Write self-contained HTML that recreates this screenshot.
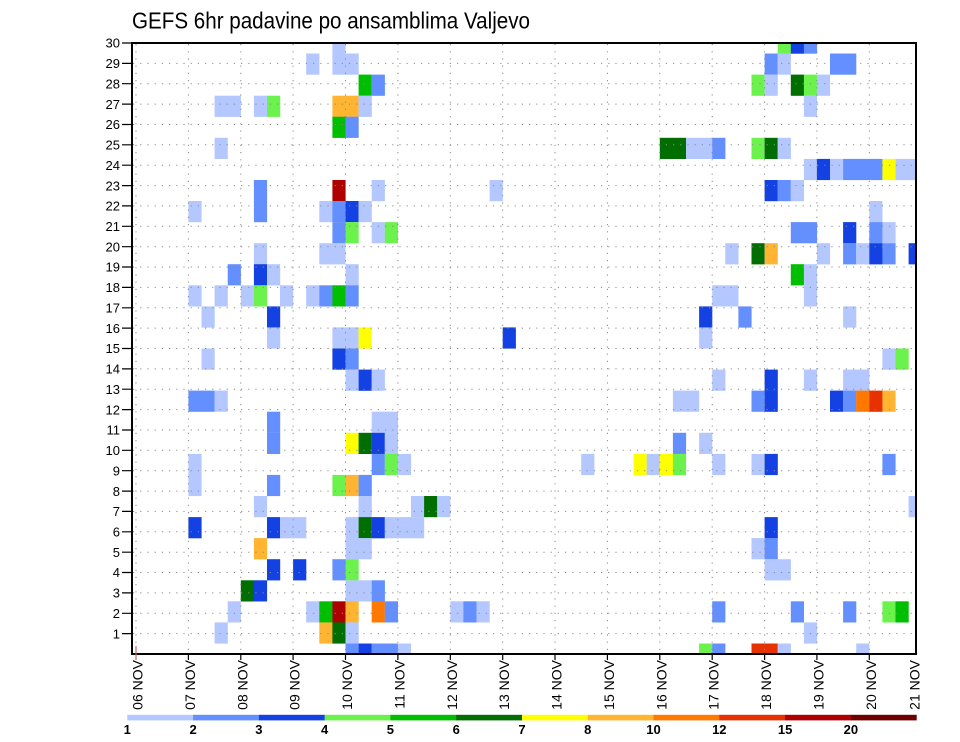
<!DOCTYPE html>
<html><head><meta charset="utf-8"><style>
html,body{margin:0;padding:0;background:#fff;}
svg{display:block;font-family:"Liberation Sans",sans-serif;}
.L{fill:#b4c8ff}.M{fill:#6490ff}.D{fill:#1441e1}.LG{fill:#6cf24c}.G{fill:#00be00}.DG{fill:#006e00}
.Y{fill:#ffff00}.O{fill:#ffb432}.O2{fill:#ff7800}.R{fill:#e63200}.DR{fill:#af0000}.X{fill:#6e0000}
</style></head><body>
<svg width="960" height="742" viewBox="0 0 960 742" xmlns="http://www.w3.org/2000/svg">
<defs><clipPath id="pc"><rect x="132" y="43" width="784" height="611"/></clipPath></defs>
<text x="132" y="28.5" font-size="23.5" textLength="398" lengthAdjust="spacingAndGlyphs" fill="#000">GEFS 6hr padavine po ansamblima Valjevo</text>
<g clip-path="url(#pc)">
<!-- m29 -->
<rect x="332.4" y="32.5" width="13.2" height="21.2" class="L"/>
<rect x="777.7" y="32.5" width="13.2" height="21.2" class="LG"/>
<rect x="790.8" y="32.5" width="13.2" height="21.2" class="D"/>
<rect x="803.9" y="32.5" width="13.2" height="21.2" class="M"/>
<!-- m28 -->
<rect x="306.2" y="53.5" width="13.2" height="21.2" class="L"/>
<rect x="332.4" y="53.5" width="26.3" height="21.2" class="L"/>
<rect x="764.6" y="53.5" width="13.2" height="21.2" class="M"/>
<rect x="777.7" y="53.5" width="13.2" height="21.2" class="L"/>
<rect x="830.0" y="53.5" width="26.3" height="21.2" class="M"/>
<!-- m27 -->
<rect x="358.6" y="74.6" width="13.2" height="21.2" class="G"/>
<rect x="371.7" y="74.6" width="13.2" height="21.2" class="M"/>
<rect x="751.5" y="74.6" width="13.2" height="21.2" class="LG"/>
<rect x="764.6" y="74.6" width="13.2" height="21.2" class="L"/>
<rect x="790.8" y="74.6" width="13.2" height="21.2" class="DG"/>
<rect x="803.9" y="74.6" width="13.2" height="21.2" class="LG"/>
<rect x="816.9" y="74.6" width="13.2" height="21.2" class="L"/>
<!-- m26 -->
<rect x="214.6" y="95.7" width="26.3" height="21.2" class="L"/>
<rect x="253.9" y="95.7" width="13.2" height="21.2" class="L"/>
<rect x="267.0" y="95.7" width="13.2" height="21.2" class="LG"/>
<rect x="332.4" y="95.7" width="26.3" height="21.2" class="O"/>
<rect x="358.6" y="95.7" width="13.2" height="21.2" class="L"/>
<rect x="803.9" y="95.7" width="13.2" height="21.2" class="L"/>
<!-- m25 -->
<rect x="332.4" y="116.7" width="13.2" height="21.2" class="G"/>
<rect x="345.5" y="116.7" width="13.2" height="21.2" class="M"/>
<!-- m24 -->
<rect x="214.6" y="137.8" width="13.2" height="21.2" class="L"/>
<rect x="659.8" y="137.8" width="26.3" height="21.2" class="DG"/>
<rect x="686.0" y="137.8" width="26.3" height="21.2" class="L"/>
<rect x="712.2" y="137.8" width="13.2" height="21.2" class="M"/>
<rect x="751.5" y="137.8" width="13.2" height="21.2" class="LG"/>
<rect x="764.6" y="137.8" width="13.2" height="21.2" class="DG"/>
<rect x="777.7" y="137.8" width="13.2" height="21.2" class="L"/>
<!-- m23 -->
<rect x="803.9" y="158.9" width="13.2" height="21.2" class="L"/>
<rect x="816.9" y="158.9" width="13.2" height="21.2" class="D"/>
<rect x="830.0" y="158.9" width="13.2" height="21.2" class="L"/>
<rect x="843.1" y="158.9" width="39.4" height="21.2" class="M"/>
<rect x="882.4" y="158.9" width="13.2" height="21.2" class="Y"/>
<rect x="895.5" y="158.9" width="26.3" height="21.2" class="L"/>
<!-- m22 -->
<rect x="253.9" y="180.0" width="13.2" height="21.2" class="M"/>
<rect x="332.4" y="180.0" width="13.2" height="21.2" class="DR"/>
<rect x="371.7" y="180.0" width="13.2" height="21.2" class="L"/>
<rect x="489.6" y="180.0" width="13.2" height="21.2" class="L"/>
<rect x="764.6" y="180.0" width="13.2" height="21.2" class="D"/>
<rect x="777.7" y="180.0" width="13.2" height="21.2" class="M"/>
<rect x="790.8" y="180.0" width="13.2" height="21.2" class="L"/>
<!-- m21 -->
<rect x="188.4" y="201.0" width="13.2" height="21.2" class="L"/>
<rect x="253.9" y="201.0" width="13.2" height="21.2" class="M"/>
<rect x="319.3" y="201.0" width="13.2" height="21.2" class="L"/>
<rect x="332.4" y="201.0" width="13.2" height="21.2" class="M"/>
<rect x="345.5" y="201.0" width="13.2" height="21.2" class="D"/>
<rect x="358.6" y="201.0" width="13.2" height="21.2" class="L"/>
<rect x="869.3" y="201.0" width="13.2" height="21.2" class="L"/>
<!-- m20 -->
<rect x="332.4" y="222.1" width="13.2" height="21.2" class="M"/>
<rect x="345.5" y="222.1" width="13.2" height="21.2" class="LG"/>
<rect x="371.7" y="222.1" width="13.2" height="21.2" class="L"/>
<rect x="384.8" y="222.1" width="13.2" height="21.2" class="LG"/>
<rect x="790.8" y="222.1" width="26.3" height="21.2" class="M"/>
<rect x="843.1" y="222.1" width="13.2" height="21.2" class="D"/>
<rect x="869.3" y="222.1" width="13.2" height="21.2" class="M"/>
<rect x="882.4" y="222.1" width="13.2" height="21.2" class="L"/>
<!-- m19 -->
<rect x="253.9" y="243.2" width="13.2" height="21.2" class="L"/>
<rect x="319.3" y="243.2" width="26.3" height="21.2" class="L"/>
<rect x="725.3" y="243.2" width="13.2" height="21.2" class="L"/>
<rect x="751.5" y="243.2" width="13.2" height="21.2" class="DG"/>
<rect x="764.6" y="243.2" width="13.2" height="21.2" class="O"/>
<rect x="816.9" y="243.2" width="13.2" height="21.2" class="L"/>
<rect x="843.1" y="243.2" width="13.2" height="21.2" class="M"/>
<rect x="856.2" y="243.2" width="13.2" height="21.2" class="L"/>
<rect x="869.3" y="243.2" width="13.2" height="21.2" class="D"/>
<rect x="882.4" y="243.2" width="13.2" height="21.2" class="M"/>
<rect x="908.6" y="243.2" width="13.2" height="21.2" class="D"/>
<!-- m18 -->
<rect x="227.7" y="264.2" width="13.2" height="21.2" class="M"/>
<rect x="253.9" y="264.2" width="13.2" height="21.2" class="D"/>
<rect x="267.0" y="264.2" width="13.2" height="21.2" class="L"/>
<rect x="345.5" y="264.2" width="13.2" height="21.2" class="L"/>
<rect x="790.8" y="264.2" width="13.2" height="21.2" class="G"/>
<rect x="803.9" y="264.2" width="13.2" height="21.2" class="L"/>
<!-- m17 -->
<rect x="188.4" y="285.3" width="13.2" height="21.2" class="L"/>
<rect x="214.6" y="285.3" width="13.2" height="21.2" class="L"/>
<rect x="240.8" y="285.3" width="13.2" height="21.2" class="L"/>
<rect x="253.9" y="285.3" width="13.2" height="21.2" class="LG"/>
<rect x="280.0" y="285.3" width="13.2" height="21.2" class="L"/>
<rect x="306.2" y="285.3" width="13.2" height="21.2" class="L"/>
<rect x="319.3" y="285.3" width="13.2" height="21.2" class="M"/>
<rect x="332.4" y="285.3" width="13.2" height="21.2" class="G"/>
<rect x="345.5" y="285.3" width="13.2" height="21.2" class="M"/>
<rect x="712.2" y="285.3" width="26.3" height="21.2" class="L"/>
<rect x="803.9" y="285.3" width="13.2" height="21.2" class="L"/>
<!-- m16 -->
<rect x="201.5" y="306.4" width="13.2" height="21.2" class="L"/>
<rect x="267.0" y="306.4" width="13.2" height="21.2" class="D"/>
<rect x="699.1" y="306.4" width="13.2" height="21.2" class="D"/>
<rect x="738.4" y="306.4" width="13.2" height="21.2" class="M"/>
<rect x="843.1" y="306.4" width="13.2" height="21.2" class="L"/>
<!-- m15 -->
<rect x="267.0" y="327.4" width="13.2" height="21.2" class="L"/>
<rect x="332.4" y="327.4" width="26.3" height="21.2" class="L"/>
<rect x="358.6" y="327.4" width="13.2" height="21.2" class="Y"/>
<rect x="502.7" y="327.4" width="13.2" height="21.2" class="D"/>
<rect x="699.1" y="327.4" width="13.2" height="21.2" class="L"/>
<!-- m14 -->
<rect x="201.5" y="348.5" width="13.2" height="21.2" class="L"/>
<rect x="332.4" y="348.5" width="13.2" height="21.2" class="D"/>
<rect x="345.5" y="348.5" width="13.2" height="21.2" class="M"/>
<rect x="882.4" y="348.5" width="13.2" height="21.2" class="L"/>
<rect x="895.5" y="348.5" width="13.2" height="21.2" class="LG"/>
<!-- m13 -->
<rect x="345.5" y="369.6" width="13.2" height="21.2" class="L"/>
<rect x="358.6" y="369.6" width="13.2" height="21.2" class="D"/>
<rect x="371.7" y="369.6" width="13.2" height="21.2" class="L"/>
<rect x="712.2" y="369.6" width="13.2" height="21.2" class="L"/>
<rect x="764.6" y="369.6" width="13.2" height="21.2" class="D"/>
<rect x="803.9" y="369.6" width="13.2" height="21.2" class="L"/>
<rect x="843.1" y="369.6" width="26.3" height="21.2" class="L"/>
<!-- m12 -->
<rect x="188.4" y="390.6" width="26.3" height="21.2" class="M"/>
<rect x="214.6" y="390.6" width="13.2" height="21.2" class="L"/>
<rect x="672.9" y="390.6" width="26.3" height="21.2" class="L"/>
<rect x="751.5" y="390.6" width="13.2" height="21.2" class="M"/>
<rect x="764.6" y="390.6" width="13.2" height="21.2" class="D"/>
<rect x="830.0" y="390.6" width="13.2" height="21.2" class="D"/>
<rect x="843.1" y="390.6" width="13.2" height="21.2" class="M"/>
<rect x="856.2" y="390.6" width="13.2" height="21.2" class="O2"/>
<rect x="869.3" y="390.6" width="13.2" height="21.2" class="R"/>
<rect x="882.4" y="390.6" width="13.2" height="21.2" class="O"/>
<!-- m11 -->
<rect x="267.0" y="411.7" width="13.2" height="21.2" class="M"/>
<rect x="371.7" y="411.7" width="26.3" height="21.2" class="L"/>
<!-- m10 -->
<rect x="267.0" y="432.8" width="13.2" height="21.2" class="M"/>
<rect x="345.5" y="432.8" width="13.2" height="21.2" class="Y"/>
<rect x="358.6" y="432.8" width="13.2" height="21.2" class="DG"/>
<rect x="371.7" y="432.8" width="13.2" height="21.2" class="D"/>
<rect x="384.8" y="432.8" width="13.2" height="21.2" class="L"/>
<rect x="672.9" y="432.8" width="13.2" height="21.2" class="M"/>
<rect x="699.1" y="432.8" width="13.2" height="21.2" class="L"/>
<!-- m9 -->
<rect x="188.4" y="453.9" width="13.2" height="21.2" class="L"/>
<rect x="371.7" y="453.9" width="13.2" height="21.2" class="M"/>
<rect x="384.8" y="453.9" width="13.2" height="21.2" class="LG"/>
<rect x="397.9" y="453.9" width="13.2" height="21.2" class="L"/>
<rect x="581.2" y="453.9" width="13.2" height="21.2" class="L"/>
<rect x="633.6" y="453.9" width="13.2" height="21.2" class="Y"/>
<rect x="646.7" y="453.9" width="13.2" height="21.2" class="L"/>
<rect x="659.8" y="453.9" width="13.2" height="21.2" class="Y"/>
<rect x="672.9" y="453.9" width="13.2" height="21.2" class="LG"/>
<rect x="712.2" y="453.9" width="13.2" height="21.2" class="L"/>
<rect x="751.5" y="453.9" width="13.2" height="21.2" class="L"/>
<rect x="764.6" y="453.9" width="13.2" height="21.2" class="D"/>
<rect x="882.4" y="453.9" width="13.2" height="21.2" class="M"/>
<!-- m8 -->
<rect x="188.4" y="474.9" width="13.2" height="21.2" class="L"/>
<rect x="267.0" y="474.9" width="13.2" height="21.2" class="M"/>
<rect x="332.4" y="474.9" width="13.2" height="21.2" class="LG"/>
<rect x="345.5" y="474.9" width="13.2" height="21.2" class="O"/>
<rect x="358.6" y="474.9" width="13.2" height="21.2" class="M"/>
<!-- m7 -->
<rect x="253.9" y="496.0" width="13.2" height="21.2" class="L"/>
<rect x="358.6" y="496.0" width="13.2" height="21.2" class="L"/>
<rect x="411.0" y="496.0" width="13.2" height="21.2" class="L"/>
<rect x="424.1" y="496.0" width="13.2" height="21.2" class="DG"/>
<rect x="437.2" y="496.0" width="13.2" height="21.2" class="L"/>
<rect x="908.6" y="496.0" width="13.2" height="21.2" class="L"/>
<!-- m6 -->
<rect x="188.4" y="517.1" width="13.2" height="21.2" class="D"/>
<rect x="267.0" y="517.1" width="13.2" height="21.2" class="D"/>
<rect x="280.0" y="517.1" width="26.3" height="21.2" class="L"/>
<rect x="345.5" y="517.1" width="13.2" height="21.2" class="L"/>
<rect x="358.6" y="517.1" width="13.2" height="21.2" class="DG"/>
<rect x="371.7" y="517.1" width="13.2" height="21.2" class="D"/>
<rect x="384.8" y="517.1" width="39.4" height="21.2" class="L"/>
<rect x="764.6" y="517.1" width="13.2" height="21.2" class="D"/>
<!-- m5 -->
<rect x="253.9" y="538.1" width="13.2" height="21.2" class="O"/>
<rect x="345.5" y="538.1" width="26.3" height="21.2" class="L"/>
<rect x="751.5" y="538.1" width="13.2" height="21.2" class="L"/>
<rect x="764.6" y="538.1" width="13.2" height="21.2" class="M"/>
<!-- m4 -->
<rect x="267.0" y="559.2" width="13.2" height="21.2" class="D"/>
<rect x="293.1" y="559.2" width="13.2" height="21.2" class="D"/>
<rect x="332.4" y="559.2" width="13.2" height="21.2" class="M"/>
<rect x="345.5" y="559.2" width="13.2" height="21.2" class="LG"/>
<rect x="764.6" y="559.2" width="26.3" height="21.2" class="L"/>
<!-- m3 -->
<rect x="240.8" y="580.3" width="13.2" height="21.2" class="DG"/>
<rect x="253.9" y="580.3" width="13.2" height="21.2" class="D"/>
<rect x="345.5" y="580.3" width="26.3" height="21.2" class="L"/>
<rect x="371.7" y="580.3" width="13.2" height="21.2" class="M"/>
<!-- m2 -->
<rect x="227.7" y="601.3" width="13.2" height="21.2" class="L"/>
<rect x="306.2" y="601.3" width="13.2" height="21.2" class="L"/>
<rect x="319.3" y="601.3" width="13.2" height="21.2" class="G"/>
<rect x="332.4" y="601.3" width="13.2" height="21.2" class="DR"/>
<rect x="345.5" y="601.3" width="13.2" height="21.2" class="O"/>
<rect x="371.7" y="601.3" width="13.2" height="21.2" class="O2"/>
<rect x="384.8" y="601.3" width="13.2" height="21.2" class="M"/>
<rect x="450.3" y="601.3" width="13.2" height="21.2" class="L"/>
<rect x="463.4" y="601.3" width="13.2" height="21.2" class="M"/>
<rect x="476.5" y="601.3" width="13.2" height="21.2" class="L"/>
<rect x="712.2" y="601.3" width="13.2" height="21.2" class="M"/>
<rect x="790.8" y="601.3" width="13.2" height="21.2" class="M"/>
<rect x="843.1" y="601.3" width="13.2" height="21.2" class="M"/>
<rect x="882.4" y="601.3" width="13.2" height="21.2" class="LG"/>
<rect x="895.5" y="601.3" width="13.2" height="21.2" class="G"/>
<!-- m1 -->
<rect x="214.6" y="622.4" width="13.2" height="21.2" class="L"/>
<rect x="319.3" y="622.4" width="13.2" height="21.2" class="O"/>
<rect x="332.4" y="622.4" width="13.2" height="21.2" class="DG"/>
<rect x="345.5" y="622.4" width="13.2" height="21.2" class="L"/>
<rect x="803.9" y="622.4" width="13.2" height="21.2" class="L"/>
<!-- m0 -->
<rect x="345.5" y="643.5" width="13.2" height="21.2" class="M"/>
<rect x="358.6" y="643.5" width="13.2" height="21.2" class="D"/>
<rect x="371.7" y="643.5" width="26.3" height="21.2" class="M"/>
<rect x="397.9" y="643.5" width="13.2" height="21.2" class="L"/>
<rect x="699.1" y="643.5" width="13.2" height="21.2" class="LG"/>
<rect x="712.2" y="643.5" width="13.2" height="21.2" class="M"/>
<rect x="751.5" y="643.5" width="26.3" height="21.2" class="R"/>
<rect x="777.7" y="643.5" width="13.2" height="21.2" class="L"/>
<rect x="856.2" y="643.5" width="13.2" height="21.2" class="L"/>
</g>
<!-- grid -->
<g stroke="#8a8a8a" stroke-width="1" stroke-dasharray="1.2 6" fill="none">
<path d="M136 44V654M188.4 44V654M240.8 44V654M293.1 44V654M345.5 44V654M397.9 44V654M450.3 44V654M502.7 44V654M555 44V654M607.4 44V654M659.8 44V654M712.2 44V654M764.6 44V654M816.9 44V654M869.3 44V654"/>
<path d="M133 633.6H916M133 613.3H916M133 592.9H916M133 572.5H916M133 552.2H916M133 531.8H916M133 511.4H916M133 491.1H916M133 470.7H916M133 450.3H916M133 430H916M133 409.6H916M133 389.2H916M133 368.9H916M133 348.5H916M133 328.1H916M133 307.8H916M133 287.4H916M133 267H916M133 246.7H916M133 226.3H916M133 205.9H916M133 185.6H916M133 165.2H916M133 144.8H916M133 124.5H916M133 104.1H916M133 83.7H916M133 63.4H916"/>
</g>
<!-- frame -->
<rect x="132" y="43" width="784" height="611" fill="none" stroke="#000" stroke-width="2"/>
<!-- y ticks -->
<path stroke="#000" stroke-width="1.2" d="M122 633.6H132M122 613.3H132M122 592.9H132M122 572.5H132M122 552.2H132M122 531.8H132M122 511.4H132M122 491.1H132M122 470.7H132M122 450.3H132M122 430H132M122 409.6H132M122 389.2H132M122 368.9H132M122 348.5H132M122 328.1H132M122 307.8H132M122 287.4H132M122 267H132M122 246.7H132M122 226.3H132M122 205.9H132M122 185.6H132M122 165.2H132M122 144.8H132M122 124.5H132M122 104.1H132M122 83.7H132M122 63.4H132M122 43H132"/>
<g font-size="13" text-anchor="end" fill="#000">
<text x="120" y="638.3">1</text><text x="120" y="618">2</text><text x="120" y="597.6">3</text><text x="120" y="577.2">4</text><text x="120" y="556.9">5</text><text x="120" y="536.5">6</text><text x="120" y="516.1">7</text><text x="120" y="495.8">8</text><text x="120" y="475.4">9</text><text x="120" y="455">10</text><text x="120" y="434.7">11</text><text x="120" y="414.3">12</text><text x="120" y="393.9">13</text><text x="120" y="373.6">14</text><text x="120" y="353.2">15</text><text x="120" y="332.8">16</text><text x="120" y="312.5">17</text><text x="120" y="292.1">18</text><text x="120" y="271.7">19</text><text x="120" y="251.4">20</text><text x="120" y="231">21</text><text x="120" y="210.6">22</text><text x="120" y="190.3">23</text><text x="120" y="169.9">24</text><text x="120" y="149.5">25</text><text x="120" y="129.2">26</text><text x="120" y="108.8">27</text><text x="120" y="88.4">28</text><text x="120" y="68.1">29</text><text x="120" y="47.7">30</text>
</g>
<!-- x ticks -->
<path stroke="#000" stroke-width="1.2" d="M188.4 654V660M240.8 654V660M293.1 654V660M345.5 654V660M397.9 654V660M450.3 654V660M502.7 654V660M555 654V660M607.4 654V660M659.8 654V660M712.2 654V660M764.6 654V660M816.9 654V660M869.3 654V660"/>
<path stroke="#d06060" stroke-width="1.2" d="M136 646V660"/>
<g font-size="14" text-anchor="end" fill="#000">
<text transform="translate(137.5,660) rotate(-90)" dy="0.36em">06 NOV</text>
<text transform="translate(189.9,660) rotate(-90)" dy="0.36em">07 NOV</text>
<text transform="translate(242.3,660) rotate(-90)" dy="0.36em">08 NOV</text>
<text transform="translate(294.6,660) rotate(-90)" dy="0.36em">09 NOV</text>
<text transform="translate(347,660) rotate(-90)" dy="0.36em">10 NOV</text>
<text transform="translate(399.4,660) rotate(-90)" dy="0.36em">11 NOV</text>
<text transform="translate(451.8,660) rotate(-90)" dy="0.36em">12 NOV</text>
<text transform="translate(504.2,660) rotate(-90)" dy="0.36em">13 NOV</text>
<text transform="translate(556.5,660) rotate(-90)" dy="0.36em">14 NOV</text>
<text transform="translate(608.9,660) rotate(-90)" dy="0.36em">15 NOV</text>
<text transform="translate(661.3,660) rotate(-90)" dy="0.36em">16 NOV</text>
<text transform="translate(713.7,660) rotate(-90)" dy="0.36em">17 NOV</text>
<text transform="translate(766.1,660) rotate(-90)" dy="0.36em">18 NOV</text>
<text transform="translate(818.4,660) rotate(-90)" dy="0.36em">19 NOV</text>
<text transform="translate(870.8,660) rotate(-90)" dy="0.36em">20 NOV</text>
<text transform="translate(914.5,660) rotate(-90)" dy="0.36em">21 NOV</text>
</g>
<!-- legend -->
<g>
<rect x="127.3" y="714.8" width="66.2" height="5.6" class="L"/>
<rect x="193.1" y="714.8" width="66.2" height="5.6" class="M"/>
<rect x="258.9" y="714.8" width="66.2" height="5.6" class="D"/>
<rect x="324.6" y="714.8" width="66.2" height="5.6" class="LG"/>
<rect x="390.4" y="714.8" width="66.2" height="5.6" class="G"/>
<rect x="456.2" y="714.8" width="66.2" height="5.6" class="DG"/>
<rect x="522" y="714.8" width="66.2" height="5.6" class="Y"/>
<rect x="587.8" y="714.8" width="66.2" height="5.6" class="O"/>
<rect x="653.5" y="714.8" width="66.2" height="5.6" class="O2"/>
<rect x="719.3" y="714.8" width="66.2" height="5.6" class="R"/>
<rect x="785.1" y="714.8" width="66.2" height="5.6" class="DR"/>
<rect x="850.9" y="714.8" width="65.8" height="5.6" class="X"/>
</g>
<g font-size="13" font-weight="bold" text-anchor="middle" fill="#000">
<text x="127.3" y="734">1</text><text x="193.1" y="734">2</text><text x="258.9" y="734">3</text><text x="324.6" y="734">4</text><text x="390.4" y="734">5</text><text x="456.2" y="734">6</text><text x="522" y="734">7</text><text x="587.8" y="734">8</text><text x="653.5" y="734">10</text><text x="719.3" y="734">12</text><text x="785.1" y="734">15</text><text x="850.9" y="734">20</text>
</g>
</svg>
</body></html>
